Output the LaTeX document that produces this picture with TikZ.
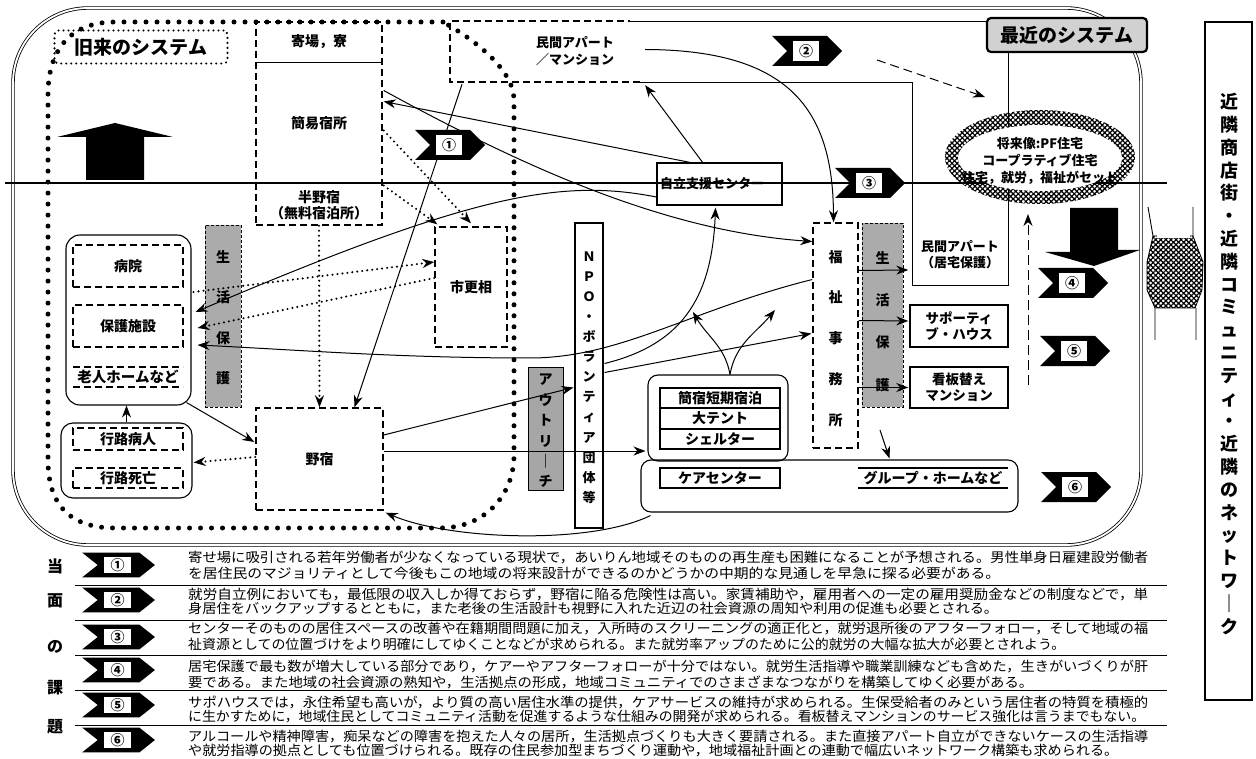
\documentclass[tikz,border=0pt]{standalone}
\usepackage{fontspec}
\usepackage{graphicx}
\setmainfont{Noto Sans CJK JP}
\usetikzlibrary{arrows.meta,patterns,patterns.meta,calc}
\newcommand{\fsz}[1]{\fontsize{#1}{#1}\selectfont}
\newcommand{\vfs}[2]{\fontsize{#1}{#2}\selectfont}
\newcommand{\chev}[6]{%
  \begin{scope}[shift={(#1,#2)},xscale=#5,yscale=#6]
    \fill (-35,-15) -- (20,-15) -- (35,0) -- (20,15) -- (-35,15) -- (-20,0) -- cycle;
    \fill[white] (-14,-10) rectangle (12,10);
  \end{scope}
  \node[font=\bfseries\fsz{14}, inner sep=0] (#4) at (#1-1,#2) {#3};}
\newcommand{\rowtext}[4]{\node[txt] (#1) at (188,#2) {\resizebox{#3pt}{\height}{#4}};}
\begin{document}
\begin{tikzpicture}[x=1pt,y=-1pt]
\tikzset{
  arr/.style={-{Stealth[length=12pt,width=9pt]}, line width=1pt},
  dotarr/.style={-{Stealth[length=12pt,width=9pt]}, line width=2.3pt, dash pattern=on 0pt off 5pt, line cap=round},
  bigdots/.style={line width=5pt, dash pattern=on 0pt off 11pt, line cap=round},
  dbox/.style={draw, line width=1.4pt, dash pattern=on 7pt off 4pt, inner sep=0},
  sbox/.style={draw, line width=1.1pt, inner sep=0},
  gbar/.style={draw, line width=0.8pt, dash pattern=on 3pt off 2pt, fill=black!33, inner sep=0},
  lbl/.style={font=\bfseries\fsz{14}, inner sep=0},
  txt/.style={font=\fsz{13.5}, anchor=west, inner sep=0},
  hatch/.style={pattern={Hatch[angle=45,distance=3.6pt,line width=1.2pt]}},
}
\useasboundingbox (0,0) rectangle (1256,759);
\fill[white] (0,0) rectangle (1256,759);

% main frame
\draw[line width=0.8pt, double, double distance=1.8pt, rounded corners=75pt] (13,8) rectangle (1141,545);

% gray bars
\node[gbar, minimum width=36, minimum height=182] (barL) at (223,316) {};
\node[gbar, minimum width=41, minimum height=184] (barR) at (882.5,315) {};
\node[draw, line width=0.6pt, fill=black!35, inner sep=0, minimum width=35, minimum height=123] (outr) at (545.5,428.5) {};
\node[font=\bfseries\vfs{14}{40.5}, align=center, inner sep=0] (barLt) at (223,317.5) {生\\活\\保\\護};
\node[font=\bfseries\vfs{14}{42.3}, align=center, inner sep=0] (barRt) at (882.5,321.5) {生\\活\\保\\護};
\node[font=\bfseries\vfs{14}{20.4}, align=center, inner sep=0] (outrt) at (545.5,431) {ア\\ウ\\ト\\リ\\｜\\チ};

% horizontal divider
\draw[line width=1.8pt] (5,183) -- (1167,183);

% old-system dotted boundary
\draw[bigdots] (443,22) -- (115,22) .. controls (70,22) and (48,50) .. (48,95) -- (48,460)
  .. controls (48,505) and (70,528) .. (115,528) -- (440,528)
  .. controls (485,528) and (514,495) .. (514,455) -- (514,100)
  .. controls (514,70) and (475,40) .. (443,22);

% new-system lines
\draw[line width=1.4pt, dash pattern=on 7pt off 4pt] (640,82) -- (450,82) -- (450,21) -- (630,21);
\draw[line width=0.8pt] (630,21) -- (987,21);
\draw[line width=0.9pt] (640,82) -- (912,82) -- (912,285) -- (1008,285) -- (1008,52);

% labels
\node[draw, line width=2.4pt, dash pattern=on 0pt off 5pt, line cap=round, rounded corners=4pt,
  minimum width=173, minimum height=33, inner sep=0, font=\bfseries\fsz{19}] (kyurai) at (141,47) {旧来のシステム};
\node[draw, line width=2.2pt, rounded corners=4pt, fill=black!18, minimum width=160, minimum height=34,
  inner sep=0, font=\bfseries\fsz{19}] (saikin) at (1067,35) {最近のシステム};

% big arrows
\fill (86,180) -- (86,137) -- (57,137) -- (115,123) -- (173,137) -- (144,137) -- (144,180) -- cycle;
\fill (1070,208) -- (1118,208) -- (1118,250) -- (1140,250) -- (1094,266) -- (1045,252) -- (1070,252) -- cycle;

% column: yoseba / kani / hannojuku
\node[dbox, minimum width=126, minimum height=203] (col) at (319,123.5) {};
\draw[line width=0.8pt] (256,62) -- (382,62);
\node[lbl] (yoseba) at (319,42) {寄場，寮};
\node[lbl] (kani) at (319,123) {簡易宿所};
\node[font=\bfseries\vfs{14}{16}, align=center, inner sep=0] (han) at (319,205) {半野宿\\（無料宿泊所）};

% minkan apartment
\node[inner sep=0, minimum width=190, minimum height=61] (minkanbox) at (545,51.5) {};
\node[font=\bfseries\vfs{13}{17}, align=center, inner sep=0] (minkan) at (575,51.5) {民間アパート\\／マンション};

% left groups
\node[draw, line width=1.1pt, rounded corners=14pt, minimum width=125, minimum height=170, inner sep=0] (hgroup) at (128.5,320) {};
\node[dbox, minimum width=110, minimum height=42, font=\bfseries\fsz{14}] (byoin) at (128,266) {病院};
\node[dbox, minimum width=110, minimum height=42, font=\bfseries\fsz{14}] (hogo) at (128,326) {保護施設};
\node[lbl, font=\bfseries\fsz{14.5}] (rojin) at (128,377) {老人ホームなど};
\draw[line width=1.4pt, dash pattern=on 7pt off 4pt] (73,367) -- (183,367) (73,387) -- (183,387);
\node[draw, line width=1.1pt, rounded corners=12pt, minimum width=131, minimum height=75, inner sep=0] (kgroup) at (126.5,460.5) {};
\node[dbox, minimum width=110, minimum height=22, font=\bfseries\fsz{14}] (byonin) at (128,439) {行路病人};
\node[dbox, minimum width=110, minimum height=20, font=\bfseries\fsz{14}] (shibo) at (128,478) {行路死亡};

% centre
\node[dbox, minimum width=127, minimum height=102, font=\bfseries\fsz{14}] (nojuku) at (319.5,459) {野宿};
\node[dbox, minimum width=72, minimum height=120, font=\bfseries\fsz{14}] (shikoso) at (471,287) {市更相};
\node[sbox, minimum width=28, minimum height=305] (npo) at (589,375.5) {};
\node[font=\bfseries\vfs{13}{20.1}, align=center, inner sep=0] (npot) at (589,377.5) {Ｎ\\Ｐ\\Ｏ\\・\\ボ\\ラ\\ン\\テ\\ィ\\ア\\団\\体\\等};
\node[sbox, line width=1.4pt, minimum width=125, minimum height=42] (jiritsu) at (719.5,184) {};
\node[font=\bfseries\fsz{13}, inner sep=0] (jiritsut) at (712,184) {自立支援センター};
\node[dbox, minimum width=45, minimum height=225] (fukushi) at (835.5,335.5) {};
\node[font=\bfseries\vfs{14}{40.8}, align=center, inner sep=0] (fukushit) at (835.5,338.5) {福\\祉\\事\\務\\所};

% shelter group and lower group
\node[draw, line width=1.1pt, rounded corners=10pt, minimum width=140, minimum height=86, inner sep=0] (shelter) at (718,418) {};
\node[sbox, line width=1.3pt, minimum width=120, minimum height=20, font=\bfseries\fsz{14}] (kanshuku) at (720,398) {簡宿短期宿泊};
\node[sbox, line width=1.3pt, minimum width=120, minimum height=21, font=\bfseries\fsz{14}] (tent) at (720,418.5) {大テント};
\node[sbox, line width=1.3pt, minimum width=120, minimum height=20, font=\bfseries\fsz{14}] (shelt) at (720,439) {シェルター};
\node[draw, line width=1.1pt, rounded corners=10pt, minimum width=377, minimum height=52, inner sep=0] (lower) at (829.5,486) {};
\node[sbox, line width=2.2pt, minimum width=120, minimum height=20, font=\bfseries\fsz{14}] (care) at (720,478) {ケアセンター};
\node[font=\bfseries\fsz{14}, inner sep=0] (ghome) at (933,478) {グループ・ホームなど};
\draw[line width=1.1pt] (858,468) -- (1008,468) (858,488) -- (1008,488);

% right boxes
\node[font=\bfseries\vfs{13}{16}, align=center, inner sep=0] (apt2) at (960,255) {民間アパート\\（居宅保護）};
\node[sbox, line width=1.4pt, minimum width=98, minimum height=42, font=\bfseries\vfs{13.5}{16}, align=center] (support) at (959,326) {サポーティ\\ブ・ハウス};
\node[sbox, line width=1.4pt, minimum width=98, minimum height=41, font=\bfseries\vfs{13.5}{16}, align=center] (kanban) at (959,387.5) {看板替え\\マンション};

% connectors
\draw[arr] ($(jiritsu.north)+(-30,0)$) -- ($(col.east)+(1,-22)$);
\draw[arr] ($(col.east)+(1,-33)$) .. controls (520,165) and (663,231) .. ($(fukushi.west)+(0,-94)$);
\draw[arr] ($(jiritsu.north)+(-17,0)$) -- ($(minkanbox.south east)+(5,3)$);
\draw[arr] ($(minkanbox.east)+(5,-2)$) .. controls (790,50) and (833,110) .. ($(fukushi.north)+(-2,0)$);
\draw[arr] ($(minkanbox.south)+(-83,2)$) -- ($(nojuku.north)+(35,0)$);
\draw[dotarr] (col.south) -- (nojuku.north);
\draw[arr] ($(jiritsu.west)+(0,13)$) .. controls (560,178) and (470,195) .. ($(hgroup.east)+(4,-8)$);
\draw[dotarr] ($(hgroup.east)+(2,-28)$) -- ($(shikoso.west)+(0,-25)$);
\draw[dotarr] ($(shikoso.west)+(0,-9)$) -- ($(hgroup.east)+(6,8)$);
\draw[dotarr] ($(col.east)+(1,7)$) -- ($(shikoso.north)+(0,-3)$);
\draw[dotarr] ($(col.east)+(1,62)$) -- ($(shikoso.north west)+(3,-2)$);
\draw[arr] ($(fukushi.west)+(0,-56)$) .. controls (690,310) and (620,358) .. (530,358)
   .. controls (400,358) and (300,350) .. ($(hgroup.east)+(6,25)$);
\draw[arr] ($(npo.east)+(1,-12)$) .. controls (680,345) and (712,300) .. ($(jiritsu.south)+(-4,2)$);
\draw[arr] ($(npo.east)+(1,-3)$) -- ($(fukushi.west)+(-1,-2)$);
\coordinate (sh1) at (693,312);
\coordinate (sh2) at (775,310);
\draw[arr] ($(shelter.north)+(12,0)$) to[out=100,in=-60] (sh1);
\draw[arr] ($(shelter.north)+(12,0)$) to[out=80,in=-130] (sh2);
\draw[arr] ($(nojuku.east)+(0,-24)$) -- ($(npo.west)+(-1,12)$);
\draw[arr] ($(nojuku.east)+(0,-8)$) -- ($(shelter.west)+(-2,33)$);
\draw[arr] ($(lower.south west)+(10,3)$) .. controls (590,545) and (450,540) .. ($(nojuku.south east)+(2,2)$);
\draw[arr] ($(hgroup.south east)+(-5,-3)$) -- ($(nojuku.west)+(-1,-17)$);
\draw[dotarr] ($(nojuku.west)+(0,-2)$) -- ($(kgroup.east)+(1,2)$);
\draw[arr] (kgroup.north) -- ($(hgroup.south)+(-2,0)$);
\draw[arr] ($(fukushi.east)+(0,-65)$) -- ($(support.west)+(-1,-56)$);
\draw[arr] ($(fukushi.east)+(0,-15)$) -- ($(support.west)+(-1,-5)$);
\draw[arr] ($(fukushi.east)+(0,52)$) -- ($(kanban.west)+(-1,0)$);
\coordinate (fkb) at (880,430);
\draw[arr] (fkb) -- ($(lower.north)+(60,-1)$);
\coordinate (dupA) at (1028,385);
\coordinate (dupB) at (1028,214);
\draw[arr, dash pattern=on 10pt off 5pt] (dupA) -- (dupB);
\coordinate (dd1) at (877,60);
\coordinate (dd2) at (985,97);
\draw[arr, dash pattern=on 9pt off 5pt] (dd1) -- (dd2);

% ellipse PF
\fill[hatch] (1040,157) ellipse [x radius=95pt, y radius=47pt];
\fill[white] (1040,158) ellipse [x radius=82pt, y radius=33pt];
\node[font=\bfseries\vfs{13}{17}, align=center, inner sep=0] (pf) at (1040,161) {将来像:PF住宅\\コープラティブ住宅\\住宅，就労，福祉がセット};

% hatched double arrow at right
\fill[hatch] (1153,236) -- (1193,236) -- (1203,262) -- (1202,290) -- (1195,308) -- (1155,308) -- (1147,290) -- (1147,262) -- cycle;
\draw[line width=0.8pt] (1153,236) -- (1193,236) -- (1203,262) -- (1202,290) -- (1195,308) -- (1155,308) -- (1147,290) -- (1147,262) -- cycle;
\fill[white] (1157,229) rectangle (1190,238);
\draw[line width=0.9pt] (1148,207) -- (1153,236) (1193,207) -- (1193,236) (1155,308) -- (1155,340) (1196,308) -- (1196,340);

% chevrons in diagram
\chev{450}{145}{①}{c1}{1}{1}
\chev{807}{51}{②}{c2}{1}{1}
\chev{870}{183}{③}{c3}{1}{1}
\chev{1073}{283}{④}{c4}{1}{1}
\chev{1075}{351}{⑤}{c5}{1}{1}
\chev{1076}{487}{⑥}{c6}{1}{1}

% right vertical box
\node[draw, line width=2.6pt, minimum width=47, minimum height=678, inner sep=0] (rbox) at (1228.5,361) {};
\node[font=\bfseries\vfs{18}{22.8}, align=center, inner sep=0] (rboxt) at (1229,364) {近\\隣\\商\\店\\街\\・\\近\\隣\\コ\\ミ\\ュ\\ニ\\テ\\ィ\\・\\近\\隣\\の\\ネ\\ッ\\ト\\ワ\\｜\\ク};

% bottom: current issues
\foreach \yy in {585,620,655,690,725} \draw[line width=0.9pt] (75,\yy) -- (1167,\yy);
\node[font=\bfseries\fsz{16}, inner sep=0] (tm1) at (55,566) {当};
\node[font=\bfseries\fsz{16}, inner sep=0] (tm2) at (55,601) {面};
\node[font=\bfseries\fsz{16}, inner sep=0] (tm3) at (55,647) {の};
\node[font=\bfseries\fsz{16}, inner sep=0] (tm4) at (55,688) {課};
\node[font=\bfseries\fsz{16}, inner sep=0] (tm5) at (55,727) {題};
\chev{118.5}{565}{①}{b1}{1.04}{0.83}
\chev{118.5}{600}{②}{b2}{1.04}{0.83}
\chev{118.5}{637}{③}{b3}{1.04}{0.83}
\chev{118.5}{670}{④}{b4}{1.04}{0.83}
\chev{118.5}{705}{⑤}{b5}{1.04}{0.83}
\chev{118.5}{740}{⑥}{b6}{1.04}{0.83}
\rowtext{r1a}{558}{960}{寄せ場に吸引される若年労働者が少なくなっている現状で，あいりん地域そのものの再生産も困難になることが予想される。男性単身日雇建設労働者}
\rowtext{r1b}{573}{812}{を居住民のマジョリティとして今後もこの地域の将来設計ができるのかどうかの中期的な見通しを早急に探る必要がある。}
\rowtext{r2a}{595}{960}{就労自立例においても，最低限の収入しか得ておらず，野宿に陥る危険性は高い。家賃補助や，雇用者への一定の雇用奨励金などの制度などで，単}
\rowtext{r2b}{609}{810}{身居住をバックアップするとともに，また老後の生活設計も視野に入れた近辺の社会資源の周知や利用の促進も必要とされる。}
\rowtext{r3a}{629}{960}{センターそのものの居住スペースの改善や在籍期間問題に加え，入所時のスクリーニングの適正化と，就労退所後のアフターフォロー，そして地域の福}
\rowtext{r3b}{644}{877}{祉資源としての位置づけをより明確にしてゆくことなどが求められる。また就労率アップのために公的就労の大幅な拡大が必要とされよう。}
\rowtext{r4a}{667}{960}{居宅保護で最も数が増大している部分であり，ケアーやアフターフォローが十分ではない。就労生活指導や職業訓練なども含めた，生きがいづくりが肝}
\rowtext{r4b}{682}{845}{要である。また地域の社会資源の熟知や，生活拠点の形成，地域コミュニティでのさまざまなつながりを構築してゆく必要がある。}
\rowtext{r5a}{702}{960}{サポハウスでは，永住希望も高いが，より質の高い居住水準の提供，ケアサービスの維持が求められる。生保受給者のみという居住者の特質を積極的}
\rowtext{r5b}{717}{957}{に生かすために，地域住民としてコミュニティ活動を促進するような仕組みの開発が求められる。看板替えマンションのサービス強化は言うまでもない。}
\rowtext{r6a}{737}{960}{アルコールや精神障害，痴呆などの障害を抱えた人々の居所，生活拠点づくりも大きく要請される。また直接アパート自立ができないケースの生活指導}
\rowtext{r6b}{751}{930}{や就労指導の拠点としても位置づけられる。既存の住民参加型まちづくり運動や，地域福祉計画との連動で幅広いネットワーク構築も求められる。}
\end{tikzpicture}
\end{document}
